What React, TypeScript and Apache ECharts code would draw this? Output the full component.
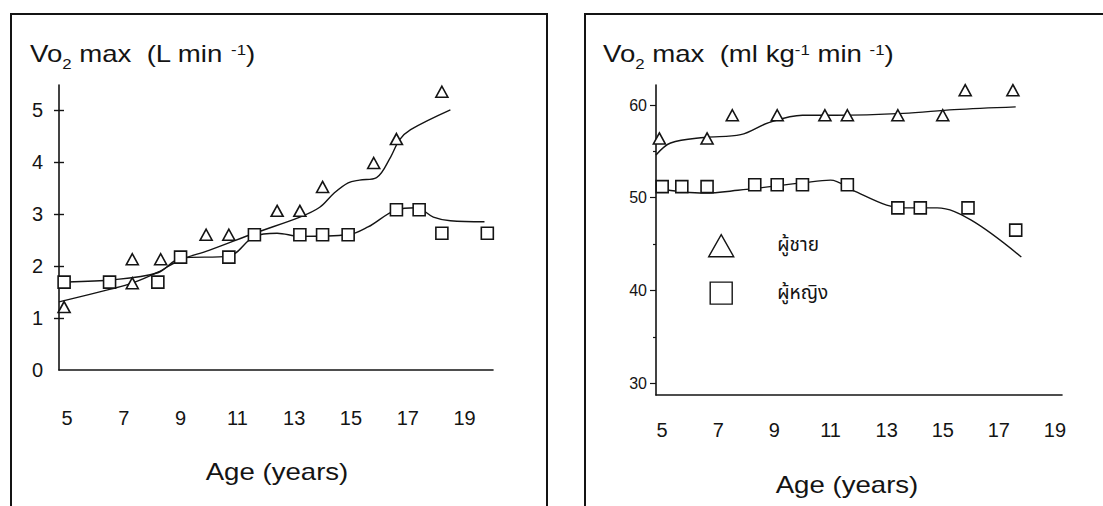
import React, { useEffect, useRef } from 'react';
import * as echarts from 'echarts';

// ---- tick labels ----
const xTickLabels = [5, 7, 9, 11, 13, 15, 17, 19];
const leftYLabels = [0, 1, 2, 3, 4, 5];
const leftYTicks = [1, 2, 3, 4, 5];
const rightYLabels = [30, 40, 50, 60];
const rightYMajorTicks = [30, 40, 50, 60];
const rightYMinorTicks = [35, 45, 55];

// ---- legend names ----
const maleName = 'ผู้ชาย';
const femaleName = 'ผู้หญิง';

// ---- left panel: VO2 max (L/min) ----
const leftMalePoints: [number, number][] = [
  [4.9, 1.21], [7.3, 1.67], [7.3, 2.13], [8.3, 2.13], [9.9, 2.6], [10.7, 2.6],
  [12.4, 3.06], [13.2, 3.06], [14.0, 3.52], [15.8, 3.98], [16.6, 4.44], [18.2, 5.35],
];
const leftFemalePoints: [number, number][] = [
  [4.9, 1.69], [6.5, 1.69], [8.2, 1.69], [9.0, 2.17], [10.7, 2.17], [11.6, 2.6],
  [13.2, 2.6], [14.0, 2.6], [14.9, 2.6], [16.6, 3.08], [17.4, 3.08], [18.2, 2.63], [19.8, 2.63],
];
const leftMaleCurve: [number, number][] = [
  [4.72, 1.31], [6.5, 1.55], [7.3, 1.67], [8.2, 1.88], [9.0, 2.12], [10.0, 2.3],
  [11.6, 2.63], [13.2, 2.94], [13.9, 3.13], [14.4, 3.4], [14.9, 3.6], [15.3, 3.65],
  [15.9, 3.7], [16.4, 4.1], [16.7, 4.42], [17.1, 4.62], [18.5, 5.0],
];
const leftFemaleCurve: [number, number][] = [
  [4.72, 1.69], [6.5, 1.73], [8.2, 1.87], [9.0, 2.15], [10.7, 2.19], [11.6, 2.57],
  [12.4, 2.63], [13.2, 2.57], [14.9, 2.6], [15.6, 2.75], [16.6, 3.08], [17.3, 3.12],
  [17.9, 2.94], [18.5, 2.87], [19.7, 2.85],
];

// ---- right panel: VO2 max (ml/kg/min) ----
const rightMalePoints: [number, number][] = [
  [4.9, 56.4], [6.6, 56.4], [7.5, 58.9], [9.1, 58.9], [10.8, 58.9], [11.6, 58.9],
  [13.4, 58.9], [15.0, 58.9], [15.8, 61.6], [17.5, 61.6],
];
const rightFemalePoints: [number, number][] = [
  [5.0, 51.2], [5.7, 51.2], [6.6, 51.2], [8.3, 51.4], [9.1, 51.4], [10.0, 51.4],
  [11.6, 51.4], [13.4, 48.9], [14.2, 48.9], [15.9, 48.9], [17.6, 46.5],
];
const rightMaleCurve: [number, number][] = [
  [4.78, 54.6], [5.3, 55.9], [6.5, 56.5], [7.8, 56.8], [8.8, 58.1], [10.0, 58.9],
  [11.2, 58.9], [13.6, 59.1], [15.4, 59.5], [17.6, 59.8],
];
const rightFemaleCurve: [number, number][] = [
  [4.78, 51.0], [6.5, 50.5], [7.7, 50.8], [10.0, 51.6], [11.0, 51.9], [11.8, 50.8],
  [13.0, 49.2], [13.6, 48.9], [14.8, 48.9], [16.0, 47.6], [17.8, 43.6],
];

const INK = '#141414';
const FONT = '"Liberation Sans", Arial, sans-serif';

function scatter(name: string, data: [number, number][], symbol: string, size: any, xi: number, yi: number) {
  return {
    type: 'scatter', name, data, symbol, symbolSize: size,
    xAxisIndex: xi, yAxisIndex: yi, z: 4,
    itemStyle: { color: '#ffffff', borderColor: INK, borderWidth: 1.6, opacity: 1 },
  };
}
function curve(name: string, data: [number, number][], xi: number, yi: number) {
  return {
    type: 'line', name, data, smooth: 0.35, showSymbol: false, symbol: 'none',
    xAxisIndex: xi, yAxisIndex: yi, z: 2,
    lineStyle: { color: INK, width: 1.4 },
  };
}

export default function App() {
  const ref = useRef<HTMLDivElement>(null);
  useEffect(() => {
    if (!ref.current) return;
    const chart = echarts.init(ref.current, null, { renderer: 'svg' });
    const rich = {
      a: { fontSize: 23, fontFamily: FONT, fill: INK, lineHeight: 34 },
      s: { fontSize: 14, fontFamily: FONT, fill: INK, lineHeight: 14, verticalAlign: 'bottom' },
      p: { fontSize: 14, fontFamily: FONT, fill: INK, lineHeight: 14, verticalAlign: 'middle', padding: [0, 0, 8, 0] },
    };
    const option: any = {
      animation: false,
      backgroundColor: '#ffffff',
      textStyle: { fontFamily: FONT, color: INK },
      grid: [
        { left: 59, top: 85, width: 434, height: 285 },
        { left: 656, top: 85, width: 406, height: 310 },
      ],
      xAxis: [
        {
          type: 'value', gridIndex: 0, min: 4.72, max: 20.0,
          axisLine: { show: true, lineStyle: { color: INK, width: 1.6 } },
          axisTick: { show: false },
          splitLine: { show: false },
          axisLabel: { customValues: xTickLabels, fontSize: 20, color: INK, margin: 38, fontFamily: FONT },
        },
        {
          type: 'value', gridIndex: 1, min: 4.78, max: 19.25,
          axisLine: { show: true, lineStyle: { color: INK, width: 1.6 } },
          axisTick: { show: false },
          splitLine: { show: false },
          axisLabel: { customValues: xTickLabels, fontSize: 20, color: INK, margin: 25, fontFamily: FONT },
        },
      ],
      yAxis: [
        {
          type: 'value', gridIndex: 0, position: 'left', min: 0, max: 5.48,
          axisLine: { show: true, lineStyle: { color: INK, width: 1.6 } },
          axisTick: { show: true, length: 5, customValues: leftYTicks, lineStyle: { color: INK, width: 1.4 } },
          splitLine: { show: false },
          axisLabel: { customValues: leftYLabels, fontSize: 20, color: INK, margin: 16, fontFamily: FONT },
        },
        {
          type: 'value', gridIndex: 0, position: 'left', offset: 0, min: 0, max: 5.48,
          axisLine: { show: false },
          axisTick: { show: true, inside: true, length: 5, customValues: leftYTicks, lineStyle: { color: INK, width: 1.4 } },
          splitLine: { show: false },
          axisLabel: { show: false },
        },
        {
          type: 'value', gridIndex: 1, position: 'left', min: 28.72, max: 62.16,
          axisLine: { show: true, lineStyle: { color: INK, width: 1.6 } },
          axisTick: { show: true, length: 6, customValues: rightYMajorTicks, lineStyle: { color: INK, width: 1.2 } },
          splitLine: { show: false },
          axisLabel: { customValues: rightYLabels, fontSize: 16, color: INK, margin: 9, fontFamily: FONT },
        },
        {
          type: 'value', gridIndex: 1, position: 'left', offset: 0, min: 28.72, max: 62.16,
          axisLine: { show: false },
          axisTick: { show: true, length: 3, customValues: rightYMinorTicks, lineStyle: { color: INK, width: 1.2 } },
          splitLine: { show: false },
          axisLabel: { show: false },
        },
      ],
      legend: {
        data: [
          { name: maleName, icon: 'path://M12.5,0L25,22L0,22Z' },
          { name: femaleName, icon: 'path://M0,0L20,0L20,20L0,20Z' },
        ],
        orient: 'vertical',
        left: 703, top: 229,
        itemWidth: 26, itemHeight: 22, itemGap: 24,
        selectedMode: false,
        textStyle: { fontSize: 19, color: INK, padding: [0, 0, 0, 38], fontFamily: '"Noto Sans Thai", "Noto Sans", "DejaVu Sans", sans-serif' },
        itemStyle: { color: '#ffffff', borderColor: INK, borderWidth: 1.4 },
      },
      series: [
        curve('left-male-fit', leftMaleCurve, 0, 0),
        curve('left-female-fit', leftFemaleCurve, 0, 0),
        { ...scatter(maleName, leftMalePoints, 'triangle', [12, 11], 0, 0) },
        { ...scatter(femaleName, leftFemalePoints, 'rect', 12, 0, 0) },
        curve('right-male-fit', rightMaleCurve, 1, 2),
        curve('right-female-fit', rightFemaleCurve, 1, 2),
        { ...scatter(maleName, rightMalePoints, 'triangle', [12, 11], 1, 2) },
        { ...scatter(femaleName, rightFemalePoints, 'rect', 12, 1, 2) },
      ],
      graphic: [
        { type: 'rect', z: 0, shape: { x: 11, y: 14, width: 536, height: 530 }, style: { fill: 'none', stroke: INK, lineWidth: 2 } },
        { type: 'rect', z: 0, shape: { x: 585, y: 14, width: 560, height: 530 }, style: { fill: 'none', stroke: INK, lineWidth: 2 } },
        {
          type: 'text', x: 30, y: 54, z: 10, scaleX: 1.2,
          style: { text: '{a|Vo}{s|2}{a| max  (L min }{p|-1}{a|)}', rich, verticalAlign: 'middle' },
        },
        {
          type: 'text', x: 603, y: 54, z: 10, scaleX: 1.2,
          style: { text: '{a|Vo}{s|2}{a| max  (ml kg}{p|-1}{a| min }{p|-1}{a|)}', rich, verticalAlign: 'middle' },
        },
        {
          type: 'text', x: 277, y: 472, z: 10, scaleX: 1.2,
          style: { text: 'Age (years)', fontSize: 23, fontFamily: FONT, fill: INK, align: 'center', verticalAlign: 'middle' },
        },
        {
          type: 'text', x: 847, y: 485, z: 10, scaleX: 1.2,
          style: { text: 'Age (years)', fontSize: 23, fontFamily: FONT, fill: INK, align: 'center', verticalAlign: 'middle' },
        },
      ],
    };
    chart.setOption(option);
    return () => chart.dispose();
  }, []);
  return <div ref={ref} style={{ position: 'absolute', left: 0, top: 0, width: 1103, height: 506 }} />;
}
